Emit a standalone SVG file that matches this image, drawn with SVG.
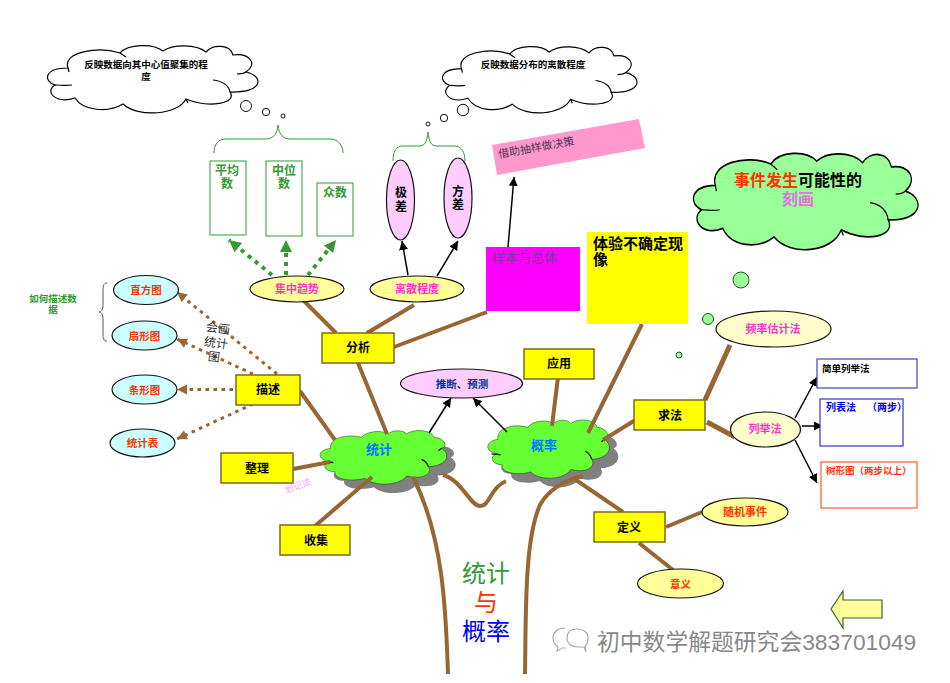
<svg xmlns="http://www.w3.org/2000/svg" width="950" height="683" viewBox="0 0 950 683">
<style>
text{font-family:"Liberation Sans","Noto Sans CJK SC",sans-serif;text-anchor:middle;font-weight:bold}
.l{text-anchor:start}
.n{font-weight:normal}
.cl{fill:none;stroke:#000;stroke-width:1.2;vector-effect:non-scaling-stroke}
.box{fill:#ffff00;stroke:#7a6a1a;stroke-width:1.5}
.sub{fill:#fff;stroke:#339933;stroke-width:1}
.ey{fill:#ffff99;stroke:#111;stroke-width:1.2}
.ec{fill:#ccffff;stroke:#111;stroke-width:1.2}
.ep{fill:#ffccff;stroke:#111;stroke-width:1.2}
.ew{fill:#ffffcc;stroke:#111;stroke-width:1.2}
.br{fill:none;stroke:#996633;stroke-width:4}
.bk{fill:none;stroke:#000;stroke-width:1.5;marker-end:url(#ab)}
.gd{fill:none;stroke:#339933;stroke-width:4;stroke-dasharray:4 5;marker-end:url(#ag)}
.bd{fill:none;stroke:#996633;stroke-width:3;stroke-dasharray:3.5 4.5;marker-end:url(#am)}
.brace{fill:none;stroke:#339933;stroke-width:1}
.bub{fill:#fff;stroke:#111;stroke-width:1}
.gb{fill:#99ff99;stroke:#225522;stroke-width:1}
.red{fill:#ff3300;font-size:10.5px}
.mag{fill:#ff33cc;font-size:11px}
.blk{fill:#000;font-size:12px}
.grn{fill:#339933;font-size:12px}
</style>
<defs>
<path id="cf" d="M20,22C14,6 50,0 72,7C80,-2 105,-3 115,5C125,-2 148,-2 158,6C165,-2 182,-2 185,9C202,7 210,18 198,26C216,30 216,47 182,46C190,58 160,62 138,53C130,69 90,72 75,58C60,67 35,65 27,52C8,58 -4,46 7,39C-5,35 -4,22 20,22Z"/>
<g id="cs"><path class="cl" d="M7,39C13,39 18,40 24,39M165,34C175,35 181,40 182,46M198,26C195,28 192,28 189,28M138,53L140,57M72,7L78,11M20,22L21,26"/></g>
<path id="gc" d="M92,325C85,295 140,280 185,292C200,272 250,270 265,282C275,270 310,268 320,282C335,268 390,265 403,292C435,295 445,320 425,325C455,345 440,378 385,380C400,400 370,420 320,408C300,438 220,440 195,415C160,425 100,420 105,395C70,395 65,370 90,365C50,360 50,330 92,325Z"/>
<path id="gs" class="cl" d="M72,365C80,366 90,366 100,368M365,358C375,362 382,370 385,380M425,325L415,332"/>
<marker id="ab" markerUnits="userSpaceOnUse" markerWidth="10" markerHeight="10" refX="9" refY="4.5" orient="auto"><path d="M0,0L9,4.5L0,9Z" fill="#000"/></marker>
<marker id="ag" markerUnits="userSpaceOnUse" markerWidth="14" markerHeight="14" refX="12" refY="6" orient="auto"><path d="M0,0L12,6L0,12Z" fill="#339933"/></marker>
<marker id="am" markerUnits="userSpaceOnUse" markerWidth="12" markerHeight="12" refX="10" refY="5" orient="auto"><path d="M0,0L10,5L0,10Z" fill="#996633"/></marker>
</defs>
<rect width="950" height="683" fill="#fff"/>

<g id="cloud-tongji">
<use href="#gc" transform="translate(309,349) scale(.3333)" fill="#808080"/>
<use href="#gc" class="cl" style="fill:#66ff33" transform="translate(300,340) scale(.3333)"/>
<use href="#gs" transform="translate(300,340) scale(.3333)"/>
<text x="379" y="454" font-size="13" fill="#0077ff">统计</text>
</g>
<g id="cloud-gailv">
<use href="#gc" transform="translate(477.500,330.500) scale(.32,.3625)" fill="#808080"/>
<use href="#gc" class="cl" style="fill:#66ff33" transform="translate(468.500,321.500) scale(.32,.3625)"/>
<use href="#gs" transform="translate(468.500,321.500) scale(.32,.3625)"/>
<text x="544" y="450" font-size="13" fill="#0077ff">概率</text>
</g>

<g id="connectors">
<path class="br" d="M448,674C446,620 445,540 413,477"/>
<path class="br" d="M525,674C526,620 524,540 540,505C548,490 565,480 583,476"/>
<path class="br" d="M443,475C462,480 470,506 480,506C490,506 490,488 506,481"/>
<path class="br" d="M300,297L336,333M414,305L367,333M487,312L394,347M358,363L387,434M300,391L335,440M293,469L330,462M315,526L372,477M558,377L552,426M642,324L588,433M637,419L603,440M573,478L623,512M666,527L702,512M639,543L673,570"/>
<path class="br" style="stroke-width:5" d="M707,422L735,437M730,345L705,400"/>
<path class="bk" d="M408,275L402,241"/>
<path class="bk" d="M437,276L458,241"/>
<path class="bk" d="M508,247L514,177"/>
<path class="bk" d="M429,433L451,398"/>
<path class="bk" d="M507,432L473,398"/>
<path class="bk" d="M795,418L817,377"/>
<path class="bk" d="M802,426L823,426"/>
<path class="bk" d="M795,440L817,483"/>
<path class="gd" d="M272,275L229,240"/>
<path class="gd" d="M286,275L286,240"/>
<path class="gd" d="M308,275L336,240"/>
<path class="bd" d="M277,374L177,292"/>
<path class="bd" d="M253,374L177,339"/>
<path class="bd" d="M233,389.5L177,389.5"/>
<path class="bd" d="M253,404L177,439"/>
<path class="brace" d="M214,153C214,145 218,139 226,139L265,139C273,139 277,135 278,125C279,135 283,139 291,139L330,139C338,139 343,145 343,153"/>
<path class="brace" d="M393,161C393,152 396,146 402,146L419,146C425,146 427,142 428,132C429,142 431,146 437,146L455,146C461,146 465,152 465,161"/>
<path d="M107,283C103,283 103,287 103,292L103,305C103,310 101,312 99,312C101,312 103,314 103,319L103,333C103,338 103,341 107,341" fill="none" stroke="#555" stroke-width="1"/>
</g>

<g id="thought-1">
<use href="#cf" class="cl" style="fill:#fff" transform="translate(48,46)"/>
<use href="#cs" transform="translate(48,46)"/>
<circle class="bub" cx="246" cy="106" r="5.5"/><circle class="bub" cx="266" cy="112" r="3.7"/><circle class="bub" cx="283" cy="116" r="2"/>
<text x="146" y="67.500" font-size="9.500" fill="#000">反映数据向其中心值聚集的程</text>
<text x="146" y="79.500" font-size="9.500" fill="#000">度</text>
</g>
<g id="thought-2">
<use href="#cf" class="cl" style="fill:#fff" transform="translate(443,47) scale(.924,.985)"/>
<use href="#cs" transform="translate(443,47) scale(.924,.985)"/>
<circle class="bub" cx="463" cy="110" r="5.7"/><circle class="bub" cx="444" cy="118" r="3.7"/><circle class="bub" cx="428" cy="124" r="2"/>
<text x="533" y="67.500" font-size="9.500" fill="#000">反映数据分布的离散程度</text>
</g>
<g id="thought-3">
<use href="#cf" class="cl" style="fill:#99ff99" transform="translate(694,154) scale(1.067,1.43)"/>
<use href="#cs" transform="translate(694,154) scale(1.067,1.43)"/>
<circle class="gb" cx="741" cy="280" r="8"/><circle class="gb" cx="708" cy="319" r="5.500"/><circle class="gb" cx="679" cy="355" r="3"/>
<text x="798" y="186" font-size="16"><tspan fill="#ff3300">事件发生</tspan><tspan fill="#000">可能性的</tspan></text>
<text x="798" y="205" font-size="16" fill="#dd77dd">刻画</text>
</g>

<g id="mean"><rect class="sub" x="210" y="161" width="36" height="74"/><text class="grn" x="227" y="175">平均</text><text class="grn" x="227" y="188">数</text></g>
<g id="median"><rect class="sub" x="266" y="161" width="36" height="75"/><text class="grn" x="284" y="175">中位</text><text class="grn" x="284" y="188">数</text></g>
<g id="mode"><rect class="sub" x="317" y="183" width="36" height="53"/><text class="grn" x="335" y="197">众数</text></g>
<g id="jicha"><ellipse class="ep" cx="400.500" cy="200" rx="14" ry="40"/><text class="blk" x="401" y="197">极</text><text class="blk" x="401" y="211">差</text></g>
<g id="fangcha"><ellipse class="ep" cx="458" cy="198" rx="14" ry="40"/><text class="blk" x="458" y="196">方</text><text class="blk" x="458" y="209">差</text></g>
<g id="decision"><polygon points="492,145 639,119 645,148 497,175" fill="#ff99cc"/><text class="l n" x="499" y="158" font-size="11" fill="#553355" transform="rotate(-10 499 158)">借助抽样做决策</text></g>
<g id="sample"><rect x="486" y="247" width="94" height="64" fill="#ff00ff"/><text class="l n" x="492" y="262" font-size="13" fill="#7a3a99">样本与总体</text></g>
<g id="experience"><rect x="587" y="232" width="101" height="92" fill="#ffff00"/><text class="l" x="593" y="249" font-size="15" fill="#000">体验不确定现</text><text class="l" x="593" y="265" font-size="15" fill="#000">像</text></g>
<g id="central"><ellipse class="ey" cx="297" cy="289" rx="47" ry="13"/><text class="mag" x="297" y="293">集中趋势</text></g>
<g id="dispersion"><ellipse class="ey" cx="417" cy="289" rx="47" ry="13"/><text class="mag" x="417" y="293">离散程度</text></g>
<g id="hist"><ellipse class="ec" cx="146" cy="290" rx="32.500" ry="14.500"/><text class="red" x="146" y="294">直方图</text></g>
<g id="pie"><ellipse class="ec" cx="144.500" cy="335.500" rx="32.500" ry="14.500"/><text class="red" x="144.500" y="339.500">扇形图</text></g>
<g id="bar"><ellipse class="ec" cx="144.500" cy="389.500" rx="32.500" ry="14.500"/><text class="red" x="144.500" y="393.500">条形图</text></g>
<g id="table"><ellipse class="ec" cx="142.500" cy="443" rx="32.500" ry="14"/><text class="red" x="142.500" y="447">统计表</text></g>
<g id="how"><text x="53" y="302" font-size="9.500" fill="#339933">如何描述数</text><text x="53" y="313" font-size="9.500" fill="#339933">据</text></g>
<g id="draw-label" transform="rotate(8 214 343)" fill="#333"><text class="n" x="216" y="332" font-size="12">会画</text><text class="n" x="216" y="347" font-size="12">统计</text><text class="n" x="216" y="361" font-size="12">图</text></g>
<g id="fenxi"><rect class="box" x="322" y="333" width="72" height="30"/><text class="blk" x="358" y="352">分析</text></g>
<g id="miaoshu"><rect class="box" x="236" y="375" width="64" height="30"/><text class="blk" x="268" y="393.500">描述</text></g>
<g id="zhengli"><rect class="box" x="221" y="453" width="72" height="30"/><text class="blk" x="257" y="472.500">整理</text></g>
<g id="shouji"><rect class="box" x="280" y="525" width="70" height="30"/><text class="blk" x="316" y="544.500">收集</text></g>
<g id="yingyong"><rect class="box" x="524" y="349" width="70" height="30"/><text class="blk" x="559" y="367.500">应用</text></g>
<g id="qiufa"><rect class="box" x="634" y="400" width="71" height="30"/><text class="blk" x="670" y="419.500">求法</text></g>
<g id="dingyi"><rect class="box" x="594" y="512" width="71" height="30"/><text class="blk" x="629" y="531.500">定义</text></g>
<g id="tally"><text class="n" x="298" y="489" font-size="9" fill="#ff99ff" transform="rotate(-20 298 486)">划记法</text></g>
<g id="infer"><ellipse class="ep" cx="461.500" cy="383.500" rx="61" ry="14.500"/><text x="462" y="387.500" font-size="10.500" fill="#003399">推断、预测</text></g>
<g id="freq"><ellipse class="ew" cx="773.500" cy="329" rx="57.500" ry="18"/><text class="mag" x="773" y="333">频率估计法</text></g>
<g id="enum"><ellipse class="ew" cx="765.500" cy="429.500" rx="35" ry="17.500"/><text class="mag" x="765" y="433">列举法</text></g>
<g id="random"><ellipse class="ey" cx="745" cy="512" rx="43" ry="14"/><text class="red" style="font-size:11px" x="745" y="516">随机事件</text></g>
<g id="meaning"><ellipse class="ey" cx="680.500" cy="583.500" rx="43" ry="14.500"/><text class="red" x="680.500" y="587.500">意义</text></g>
<g id="simple"><rect x="817" y="359" width="100" height="29" fill="#fff" stroke="#4444bb" stroke-width="1.2"/><text class="l" x="822" y="371.500" font-size="9.500" fill="#000">简单列举法</text></g>
<g id="liebiao"><rect x="820" y="399" width="83" height="47" fill="#fff" stroke="#3333cc" stroke-width="1.2"/><text class="l" x="826" y="411" font-size="10" fill="#0000ff">列表法<tspan x="867">（两步）</tspan></text></g>
<g id="tree"><rect x="821" y="462" width="96" height="46" fill="#fff" stroke="#ff5533" stroke-width="1.2"/><text class="l" x="826" y="473.500" font-size="9.500" fill="#ff3300">树形图（两步以上）</text></g>
<g id="title"><text class="n" x="486" y="582" font-size="24" fill="#339933">统计</text><text class="n" x="486" y="611" font-size="24" fill="#ff3300">与</text><text class="n" x="486" y="640" font-size="24" fill="#0000ff">概率</text></g>
<g id="back"><polygon points="831,609 843,591 843,600 882,600 882,618 843,618 843,628" fill="#ffff99" stroke="#336633" stroke-width="1.2"/></g>
<g id="watermark"><path d="M565,628C558,628 553,632 553,638C553,642 555,645 558,647L557,651L562,648L566,648" fill="#fff" stroke="#aaa" stroke-width="1.2"/><path d="M577,629C570,629 567,633 567,638C567,644 572,647 578,647L584,647L586,652L585,646C587,644 588,641 588,638C588,633 584,629 577,629Z" fill="#fff" stroke="#aaa" stroke-width="1.2"/><text class="l n" x="597" y="650" font-size="22.800" fill="#888">初中数学解题研究会383701049</text></g>
</svg>
